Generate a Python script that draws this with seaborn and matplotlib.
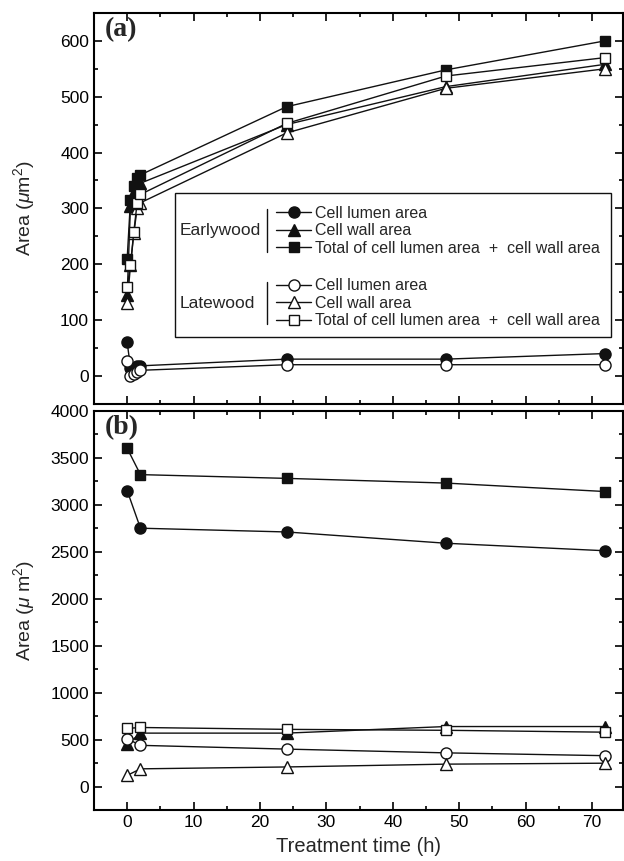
import numpy as np
import pandas as pd
import matplotlib
matplotlib.use("Agg")
import matplotlib.pyplot as plt
from matplotlib.lines import Line2D
from matplotlib.legend import Legend
from matplotlib.patches import Rectangle
from matplotlib.ticker import MultipleLocator
import seaborn as sns

sns.set_theme(style="ticks")
plt.rcParams["font.family"] = ["Liberation Sans", "DejaVu Sans"]
plt.rcParams["mathtext.fontset"] = "custom"
plt.rcParams["mathtext.rm"] = "Liberation Sans"
plt.rcParams["mathtext.it"] = "Liberation Sans:italic"

# --- дані, панель (a) ---
time_a = [0, 0.5, 1, 1.5, 2, 24, 48, 72]
ew_lumen_a = [60, 15, 15, 17, 18, 30, 30, 40]
ew_wall_a = [145, 305, 330, 340, 345, 450, 518, 558]
ew_total_a = [210, 315, 340, 355, 360, 482, 548, 600]
lw_lumen_a = [27, 0, 3, 7, 10, 20, 20, 20]
lw_wall_a = [130, 198, 255, 300, 310, 435, 515, 550]
lw_total_a = [159, 199, 258, 310, 325, 452, 537, 570]

# --- дані, панель (b) ---
time_b = [0, 2, 24, 48, 72]
ew_lumen_b = [3150, 2750, 2710, 2590, 2510]
ew_wall_b = [450, 570, 570, 640, 640]
ew_total_b = [3600, 3320, 3280, 3230, 3140]
lw_lumen_b = [510, 440, 400, 360, 330]
lw_wall_b = [120, 190, 210, 240, 250]
lw_total_b = [620, 630, 610, 600, 580]

labels = ["Cell lumen area", "Cell wall area",
          "Total of cell lumen area  +  cell wall area"]
markers = ["o", "^", "s"]
INK = "#111111"


def draw_panel(ax, t, series):
    for vals, (mk, filled) in series:
        df = pd.DataFrame({"t": t, "v": vals})
        sns.lineplot(data=df, x="t", y="v", ax=ax, marker=mk, color=INK,
                     linewidth=1.0, markersize=8 if mk != "s" else 7,
                     markerfacecolor=INK if filled else "white",
                     markeredgecolor=INK, markeredgewidth=1.0,
                     errorbar=None, sort=False)
    ax.set_xlim(-5, 74.6)
    ax.xaxis.set_major_locator(MultipleLocator(10))
    ax.xaxis.set_minor_locator(MultipleLocator(5))
    ax.tick_params(which="both", direction="in", top=True, right=True,
                   width=1.2, colors="black", labelsize=12.5)
    ax.tick_params(which="major", length=6)
    ax.tick_params(which="minor", length=3)
    for sp in ax.spines.values():
        sp.set_linewidth(1.5)
        sp.set_color("black")


fig = plt.figure(figsize=(6.24, 8.61), dpi=100)
ax_a = fig.add_axes([0.1506, 0.531, 0.847, 0.454])
ax_b = fig.add_axes([0.1506, 0.059, 0.847, 0.464])

draw_panel(ax_a, time_a, [
    (ew_lumen_a, ("o", True)), (ew_wall_a, ("^", True)), (ew_total_a, ("s", True)),
    (lw_lumen_a, ("o", False)), (lw_wall_a, ("^", False)), (lw_total_a, ("s", False)),
])
draw_panel(ax_b, time_b, [
    (ew_lumen_b, ("o", True)), (ew_wall_b, ("^", True)), (ew_total_b, ("s", True)),
    (lw_lumen_b, ("o", False)), (lw_wall_b, ("^", False)), (lw_total_b, ("s", False)),
])

ax_a.set_ylim(-50, 650)
ax_a.yaxis.set_major_locator(MultipleLocator(100))
ax_a.yaxis.set_minor_locator(MultipleLocator(50))
ax_a.tick_params(labelbottom=False)
ax_a.set_xlabel("")
ax_a.set_ylabel("Area ($\\mu$m$^2$)", fontsize=14)
ax_a.yaxis.set_label_coords(-0.108, 0.5)

ax_b.set_ylim(-250, 4000)
ax_b.yaxis.set_major_locator(MultipleLocator(500))
ax_b.yaxis.set_minor_locator(MultipleLocator(250))
ax_b.set_xlabel("Treatment time (h)", fontsize=14.5, labelpad=5)
ax_b.set_ylabel("Area ($\\mu$ m$^2$)", fontsize=14)
ax_b.yaxis.set_label_coords(-0.108, 0.5)

for ax, tag in ((ax_a, "(a)"), (ax_b, "(b)")):
    ax.text(0.02, 0.99, tag, transform=ax.transAxes, ha="left", va="top",
            fontsize=20, fontweight="bold", family="Liberation Serif")

# --- легенда з групами ---
ax_a.add_patch(Rectangle((0.153, 0.170), 0.826, 0.370, transform=ax_a.transAxes,
                         fill=False, edgecolor=INK, linewidth=1.0, zorder=5))
groups = [("Earlywood", True, 0.443, (0.389, 0.499)),
          ("Latewood", False, 0.257, (0.205, 0.312))]
for name, filled, yc, (y0, y1) in groups:
    ax_a.text(0.163, yc, name, transform=ax_a.transAxes, ha="left",
              va="center", fontsize=12.5)
    ax_a.add_line(Line2D([0.327, 0.327], [y0, y1], transform=ax_a.transAxes,
                         color=INK, linewidth=1.0))
    handles = [Line2D([], [], color=INK, linewidth=1.0, marker=m,
                      markersize=8 if m != "s" else 7,
                      markerfacecolor=INK if filled else "white",
                      markeredgecolor=INK) for m in markers]
    leg = Legend(ax_a, handles, labels, loc="center left",
                 bbox_to_anchor=(0.345, yc), frameon=False,
                 fontsize=11.5, handlelength=2.2, handletextpad=0.2,
                 labelspacing=0.15, borderpad=0, borderaxespad=0)
    ax_a.add_artist(leg)

fig.savefig("out.png", dpi=100)
